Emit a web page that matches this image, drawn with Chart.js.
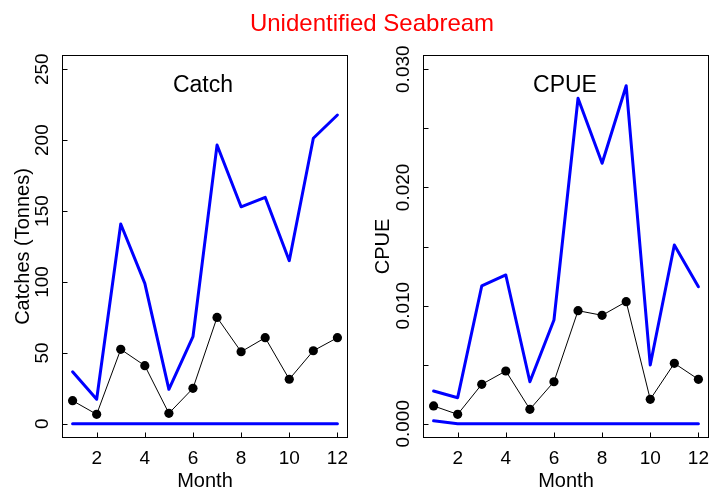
<!DOCTYPE html>
<html><head><meta charset="utf-8">
<script src="https://cdn.jsdelivr.net/npm/chart.js@4"></script>
<style>
html,body{margin:0;padding:0;background:#fff;overflow:hidden;width:710px;height:490px;}
.wrap{position:relative;width:710px;height:490px;overflow:hidden;}
canvas{position:absolute;top:0;}
.t{position:absolute;font-family:"Liberation Sans",Arial,sans-serif;text-align:center;white-space:nowrap;}
</style></head><body>
<div class="wrap">
<canvas id="c1" width="355" height="500" style="left:0"></canvas>
<canvas id="c2" width="355" height="500" style="left:355px"></canvas>
<div class="t" style="left:0;width:744px;top:11px;font-size:24px;line-height:24px;color:#ff0000">Unidentified Seabream</div>
<div class="t" style="left:103px;width:200px;top:73px;font-size:23px;line-height:23px;color:#000">Catch</div>
<div class="t" style="left:465px;width:200px;top:73px;font-size:23px;line-height:23px;color:#000">CPUE</div>
</div>
<script>
// ---- data ----
const months = [1, 2, 3, 4, 5, 6, 7, 8, 9, 10, 11, 12];
const catchUpper = [36.7, 17.3, 140.9, 99, 24.3, 61.4, 196.5, 153, 159.7, 115, 201.3, 217.7];
const catchMean  = [16.3, 6.7, 52.5, 41, 7.4, 25, 75, 50.8, 60.7, 31.4, 51.5, 60.7];
const catchLower = [0, 0, 0, 0, 0, 0, 0, 0, 0, 0, 0, 0];
const cpueUpper = [0.00277, 0.00221, 0.01166, 0.01259, 0.00356, 0.00878, 0.02754, 0.02204, 0.0286, 0.00497, 0.01513, 0.0116];
const cpueMean  = [0.00151, 0.0008, 0.00334, 0.00447, 0.00123, 0.00356, 0.00957, 0.00918, 0.01033, 0.00207, 0.00512, 0.00376];
const cpueLower = [0.00025, 0, 0, 0, 0, 0, 0, 0, 0, 0, 0, 0];
const xTicks = [2, 4, 6, 8, 10, 12];
const catchTicks = [0, 50, 100, 150, 200, 250];
const cpueTicks = [0, 0.005, 0.01, 0.015, 0.02, 0.025, 0.03];
const cpueLabels = ['0.000', '', '0.010', '', '0.020', '', '0.030'];

const FONT = 'Liberation Sans';

const boxTicks = {
  id: 'boxTicks',
  afterDatasetsDraw(chart) {
    const {ctx, chartArea: a, scales: {x, y}} = chart;
    ctx.save();
    ctx.strokeStyle = '#000';
    ctx.lineWidth = 1;
    const L = Math.round(a.left) + 0.5, T = Math.round(a.top) + 0.5;
    const R = Math.round(a.right) - 0.5, B = Math.round(a.bottom) - 0.5;
    ctx.strokeRect(L, T, R - L, B - T);
    ctx.beginPath();
    x.ticks.forEach(t => {
      const px = Math.round(x.getPixelForValue(t.value)) + 0.5;
      ctx.moveTo(px, B); ctx.lineTo(px, B - 5);
    });
    y.ticks.forEach(t => {
      const py = Math.round(y.getPixelForValue(t.value)) + 0.5;
      ctx.moveTo(L, py); ctx.lineTo(L + 5, py);
    });
    ctx.stroke();
    ctx.restore();
  }
};

function pts(arr) { return months.map((m, i) => ({x: m, y: arr[i]})); }

function zeroPad(s) { s.paddingLeft = 0; s.paddingRight = 0; s.paddingTop = 0; s.paddingBottom = 0; }

function makeChart(id, upper, mean, lower, yMin, yMax, yTicks, yLabel, yTitle, yAxisW, yTitlePad, yTickLen, rightPad) {
  const blue = {borderColor: '#0000ff', borderWidth: 3, pointRadius: 0, fill: false, tension: 0,
                borderJoinStyle: 'round', borderCapStyle: 'round'};
  new Chart(document.getElementById(id), {
    type: 'line',
    data: {
      datasets: [
        Object.assign({label: 'upper', data: pts(upper)}, blue),
        Object.assign({label: 'lower', data: pts(lower)}, blue),
        {label: 'mean', data: pts(mean), borderColor: '#000', borderWidth: 1, tension: 0,
         pointRadius: 4.6, pointBackgroundColor: '#000', pointBorderWidth: 0, fill: false}
      ]
    },
    options: {
      responsive: false, animation: false, devicePixelRatio: 1,
      layout: {autoPadding: false, padding: {left: 0, top: 55, right: rightPad, bottom: 0}},
      plugins: {legend: {display: false}, tooltip: {enabled: false}},
      scales: {
        x: {
          type: 'linear', min: 0.56, max: 12.44,
          afterBuildTicks: s => { s.ticks = xTicks.map(v => ({value: v})); },
          afterFit: s => { s.height = 62; zeroPad(s); },
          grid: {display: true, drawOnChartArea: false, drawTicks: false},
          border: {display: false},
          ticks: {minRotation: 0, maxRotation: 0, autoSkip: false, padding: 9, color: '#000',
                  font: {family: FONT, size: 19}},
          title: {display: true, text: 'Month', color: '#000', font: {family: FONT, size: 20},
                  padding: {top: 0, bottom: 7}}
        },
        y: {
          type: 'linear', min: yMin, max: yMax,
          afterBuildTicks: s => { s.ticks = yTicks.map(v => ({value: v})); },
          afterFit: s => { s.width = yAxisW; zeroPad(s); },
          grid: {display: true, drawOnChartArea: false, drawTicks: true, tickLength: yTickLen,
                 tickColor: 'rgba(0,0,0,0)'},
          border: {display: false},
          ticks: {minRotation: 90, maxRotation: 90, crossAlign: 'center', autoSkip: false, color: '#000',
                  font: {family: FONT, size: 19}, callback: yLabel},
          title: {display: true, text: yTitle, color: '#000', font: {family: FONT, size: 20},
                  padding: {top: yTitlePad, bottom: 0}}
        }
      }
    },
    plugins: [boxTicks]
  });
}

makeChart('c1', catchUpper, catchMean, catchLower, -10, 260, catchTicks,
  (v) => String(v), 'Catches (Tonnes)', 62, 11, 0, 7);
makeChart('c2', cpueUpper, cpueMean, cpueLower, -0.0012, 0.0312, cpueTicks,
  (v, i) => cpueLabels[i], 'CPUE', 68, 16, -8, 1);
</script>
</body></html>
